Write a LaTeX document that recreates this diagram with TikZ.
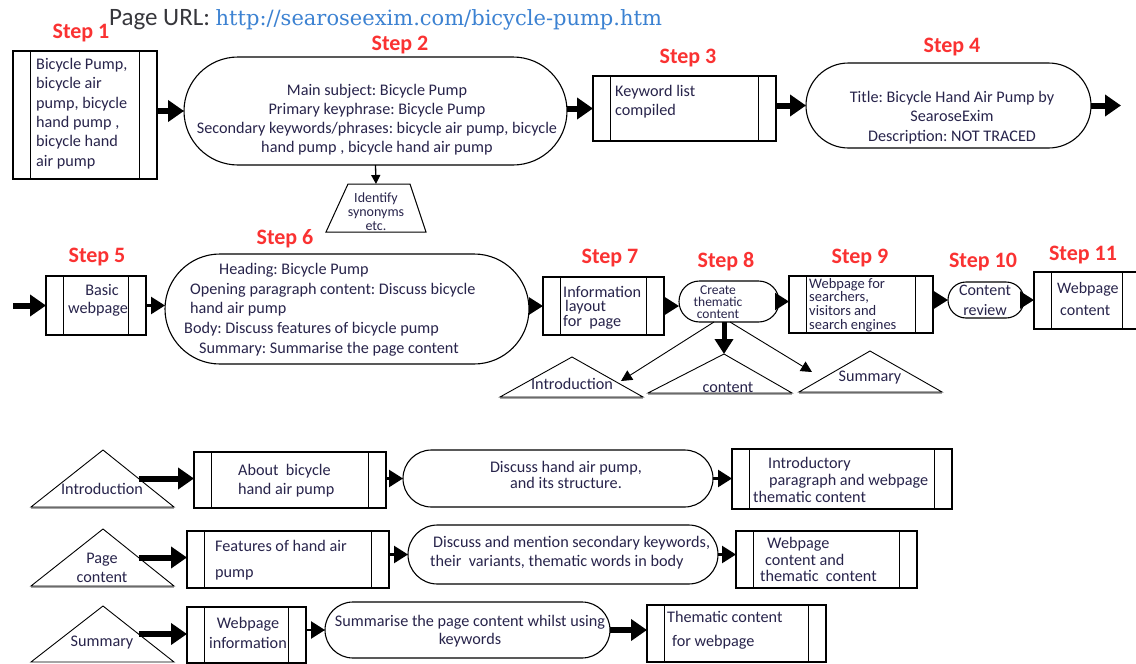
\documentclass[tikz,border=0pt]{standalone}
\usepackage{fontspec}
\setmainfont{Carlito}
\newfontfamily\urlfont{DejaVu Serif}
\usetikzlibrary{shapes.misc,shapes.geometric,arrows.meta,calc}
\definecolor{stepred}{RGB}{250,50,50}
\definecolor{urlblue}{RGB}{60,130,210}
\definecolor{pagegray}{RGB}{55,55,60}
\definecolor{textcol}{RGB}{40,36,75}
\newcommand\fs[2]{\fontsize{#1}{#2}\selectfont}
\frenchspacing
\begin{document}
\begin{tikzpicture}[x=1pt,y=-1pt,
  procbox/.style={draw, line width=1.4pt, inner sep=0pt, outer sep=0pt,
    path picture={
      \draw[line width=1.4pt] ([xshift=17.5pt]path picture bounding box.north west) -- ([xshift=17.5pt]path picture bounding box.south west);
      \draw[line width=1.4pt] ([xshift=-17.5pt]path picture bounding box.north east) -- ([xshift=-17.5pt]path picture bounding box.south east);}},
  stadium/.style={draw, rounded rectangle, line width=1.1pt, inner sep=0pt, outer sep=0pt},
  tri/.style={draw, line width=0.9pt, line join=miter},
  trishade/.style={draw=black!35, line width=2pt},
  txt/.style={text=textcol, inner sep=0pt, font=\fs{16.2}{19}},
  steplbl/.style={text=stepred, inner sep=0pt, font=\fs{22}{24}\bfseries},
  bigarrow/.style={line width=6pt, -{Triangle[length=16pt,width=21pt]}},
  midarrow/.style={line width=2.5pt, -{Triangle[length=14pt,width=17pt]}},
  thinarrow/.style={line width=0.9pt, -{Triangle[length=11pt,width=11pt]}},
  downarrow/.style={line width=1.3pt, -{Triangle[length=9pt,width=9pt]}}
]
\fill[white] (0,0) rectangle (1136,664);
\useasboundingbox (0,0) rectangle (1136,664);

% header
\node[anchor=west, inner sep=0pt] (url) at (109,20) {{\fs{25}{26}\color{pagegray}Page URL: }{\urlfont\fs{21}{24}\color{urlblue}http://searoseexim.com/bicycle-pump.htm}};

% step labels
\node[steplbl] (l1) at (81,33) {Step 1};
\node[steplbl] (l2) at (400,45) {Step 2};
\node[steplbl] (l3) at (688,58) {Step 3};
\node[steplbl] (l4) at (952,47) {Step 4};
\node[steplbl] (l5) at (97,257) {Step 5};
\node[steplbl] (l6) at (285,239) {Step 6};
\node[steplbl] (l7) at (610,258) {Step 7};
\node[steplbl] (l8) at (726,262) {Step 8};
\node[steplbl] (l9) at (860,258) {Step 9};
\node[steplbl] (l10) at (983,262) {Step 10};
\node[steplbl] (l11) at (1083,255) {Step 11};

% row 1 shapes
\node[procbox, minimum width=144pt, minimum height=128pt] (s1) at (85,115) {};
\node[stadium, minimum width=383pt, minimum height=108pt] (s2) at (375.5,111) {};
\node[procbox, minimum width=183pt, minimum height=65pt] (s3) at (684.5,108.5) {};
\node[stadium, minimum width=285pt, minimum height=85pt] (s4) at (948.5,105.5) {};
\coordinate (tz-tl) at (348,184); \coordinate (tz-tr) at (410,184);
\coordinate (tz-bl) at (326,232); \coordinate (tz-br) at (426,232);
\coordinate (tz) at (376,184);
\draw[line width=1pt] (tz-bl) -- (tz-tl) -- (tz-tr) -- (tz-br) -- cycle;

% row 1 texts
\node[txt, anchor=west, align=left, font=\fs{16.2}{19.4}] (s1t) at (36,113.5) {Bicycle Pump,\\bicycle air\\pump, bicycle\\hand pump ,\\bicycle hand\\air pump};
\node[txt, align=center, font=\fs{16.2}{19}] (s2t) at (377,119.5) {Main subject: Bicycle Pump\\Primary keyphrase: Bicycle Pump\\Secondary keywords/phrases: bicycle air pump, bicycle\\hand pump , bicycle hand air pump};
\node[txt, align=center, font=\fs{14}{14}] (tzt) at (376,212) {Identify\\synonyms\\etc.};
\node[txt, anchor=west, align=left, font=\fs{16.2}{19}] (s3t) at (615,101.5) {Keyword list\\compiled};
\node[txt, align=center, font=\fs{16.2}{19.5}] (s4t) at (952,117.5) {Title: Bicycle Hand Air Pump by\\SearoseExim\\Description: NOT TRACED};

% row 1 connectors
\coordinate (out4) at (1121,105.5);
\draw[bigarrow] (s1.east |- s2.west) -- (s2.west);
\draw[bigarrow] (s2.east |- s3.west) -- (s3.west);
\draw[bigarrow] (s3.east |- s4.west) -- (s4.west);
\draw[bigarrow] (s4.east) -- (out4);
\draw[downarrow] (s2.south) -- (tz);

% row 2 shapes
\node[procbox, minimum width=100pt, minimum height=59pt] (s5) at (96,305.5) {};
\node[stadium, minimum width=364pt, minimum height=110pt] (s6) at (347,309) {};
\node[procbox, minimum width=121pt, minimum height=58pt] (s7) at (603.5,306) {};
\node[stadium, minimum width=100pt, minimum height=41pt] (s8) at (729,301.5) {};
\node[procbox, minimum width=144pt, minimum height=57pt] (s9) at (861,304.5) {};
\node[stadium, minimum width=76pt, minimum height=36pt] (s10) at (986,300) {};
\node[procbox, minimum width=106pt, minimum height=57pt] (s11) at (1087,300.5) {};

% row 2 texts
\node[txt, align=center, font=\fs{16.2}{18}] (s5t) at (98,300) {\hspace*{8pt}Basic\\webpage};
\node[txt, anchor=west] (s6a) at (219,270) {Heading: Bicycle Pump};
\node[txt, anchor=west] (s6b) at (190,290) {Opening paragraph content: Discuss bicycle};
\node[txt, anchor=west] (s6c) at (190,309) {hand air pump};
\node[txt, anchor=west] (s6d) at (184,329) {Body: Discuss features of bicycle pump};
\node[txt, anchor=west] (s6e) at (199,349) {Summary: Summarise the page content};
\node[txt, anchor=west, align=left, font=\fs{16.2}{14.5}] (s7t) at (563,307.5) {Information\\\hspace*{2pt}layout\\for \ page};
\node[txt, align=center, font=\fs{13.5}{12}] (s8t) at (718,302) {Create\\thematic\\content};
\node[txt, anchor=west, align=left, font=\fs{14.5}{13.6}] (s9t) at (809,305) {Webpage for\\searchers,\\visitors and\\search engines};
\node[txt, align=center, font=\fs{16}{20}] (s10t) at (985,300) {Content\\review};
\node[txt, anchor=west, align=left, font=\fs{16}{22}] (s11t) at (1057,299) {Webpage\\\hspace*{3pt}content};

% triangles below step 8
\coordinate (ti-a) at (572,357); \coordinate (ti-l) at (500,397); \coordinate (ti-r) at (643,397);
\coordinate (tc-a) at (724,354); \coordinate (tc-l) at (648,393); \coordinate (tc-r) at (792,393);
\coordinate (ts-a) at (870,351); \coordinate (ts-l) at (799,392); \coordinate (ts-r) at (942,392);
\draw[trishade] ([yshift=-1pt]ti-l) -- ([yshift=-1pt]ti-r);
\draw[trishade] ([yshift=-1pt]tc-l) -- ([yshift=-1pt]tc-r);
\draw[trishade] ([yshift=-1pt]ts-l) -- ([yshift=-1pt]ts-r);
\draw[tri] (ti-l) -- (ti-a) -- (ti-r) -- cycle;
\draw[tri] (tc-l) -- (tc-a) -- (tc-r) -- cycle;
\draw[tri] (ts-l) -- (ts-a) -- (ts-r) -- cycle;
\node[txt] (tit) at (572,384) {Introduction};
\node[txt] (tct) at (728,387) {content};
\node[txt] (tst) at (870,378) {Summary};
\coordinate (ti-tip) at (621,381);
\coordinate (ts-tip) at (812,372);

% row 2 connectors
\coordinate (in5) at (13,305.5);
\draw[bigarrow] (in5) -- (s5.west);
\draw[midarrow] (s5.east) -- (s5.east -| s6.west);
\draw[midarrow] (s6.east |- s7.west) -- (s7.west);
\draw[midarrow] (s7.east) -- (s7.east -| s8.west);
\draw[midarrow] (s8.east) -- (s8.east -| s9.west);
\draw[midarrow] (s9.east |- s10.west) -- (s10.west);
\draw[midarrow] (s10.east) -- (s10.east -| s11.west);
\draw[line width=5pt, -{Triangle[length=15pt,width=18pt]}] ([xshift=-5pt]s8.south) -- (tc-a);
\draw[thinarrow] ([xshift=-15pt]s8.south) -- (ti-tip);
\draw[thinarrow] ([xshift=1pt]s8.south) -- (ts-tip);

% bottom triangles
\coordinate (t1-a) at (103,450); \coordinate (t1-l) at (31,507); \coordinate (t1-r) at (174,507);
\coordinate (t2-a) at (103,529); \coordinate (t2-l) at (31,586); \coordinate (t2-r) at (174,586);
\coordinate (t3-a) at (103,606); \coordinate (t3-l) at (31,662); \coordinate (t3-r) at (174,662);
\draw[trishade] ([yshift=-1pt]t1-l) -- ([yshift=-1pt]t1-r);
\draw[trishade] ([yshift=-1pt]t2-l) -- ([yshift=-1pt]t2-r);
\draw[tri] (t1-l) -- (t1-a) -- (t1-r) -- cycle;
\draw[tri] (t2-l) -- (t2-a) -- (t2-r) -- cycle;
\draw[tri] (t3-l) -- (t3-a) -- (t3-r) -- cycle;
\node[txt] (t1t) at (102,489) {Introduction};
\node[txt, align=center, font=\fs{16.2}{19}] (t2t) at (102,567.5) {Page\\content};
\node[txt] (t3t) at (102,643) {Summary};
\coordinate (t1m) at ($(t1-a)!0.5!(t1-r)$);
\coordinate (t2m) at ($(t2-a)!0.5!(t2-r)$);
\coordinate (t3m) at ($(t3-a)!0.5!(t3-r)$);

% bottom boxes and stadiums
\node[procbox, minimum width=192pt, minimum height=56pt] (b1) at (290,480) {};
\node[stadium, minimum width=310pt, minimum height=57pt] (r1) at (558,478.5) {};
\node[procbox, minimum width=220pt, minimum height=60pt] (b1b) at (842,479) {};
\node[procbox, minimum width=202pt, minimum height=57pt] (b2) at (288,559.5) {};
\node[stadium, minimum width=310pt, minimum height=59pt] (r2) at (563,554.5) {};
\node[procbox, minimum width=181pt, minimum height=57pt] (b2b) at (826.5,559.5) {};
\node[procbox, minimum width=119pt, minimum height=56pt] (b3) at (246.5,635) {};
\node[stadium, minimum width=285pt, minimum height=56pt] (r3) at (467.5,630) {};
\node[procbox, minimum width=179pt, minimum height=57pt] (b3b) at (736.5,633.5) {};

% bottom texts
\node[txt, anchor=west, align=left, font=\fs{16.2}{19}] (b1t) at (238,480.5) {About \ bicycle\\hand air pump};
\node[txt, align=center, font=\fs{16.2}{16}] (r1t) at (566,475) {Discuss hand air pump,\\and its structure.};
\node[txt, anchor=west, align=left, font=\fs{16.2}{17}] (b1bt) at (753,480) {\hspace*{15pt}Introductory\\\hspace*{16pt}paragraph and webpage\\thematic content};
\node[txt, anchor=west, align=left, font=\fs{16.2}{26}] (b2t) at (215,560) {Features of hand air\\pump};
\node[txt, anchor=west, align=left, font=\fs{16.2}{19}] (r2t) at (430,552.5) {\hspace*{3pt}Discuss and mention secondary keywords,\\their \ variants, thematic words in body};
\node[txt, anchor=west, align=left, font=\fs{16.2}{16.5}] (b2bt) at (760,559.5) {\hspace*{7pt}Webpage\\\hspace*{5pt}content and\\thematic \ content};
\node[txt, align=center, font=\fs{16.2}{20}] (b3t) at (248,633) {Webpage\\information};
\node[txt, align=center, font=\fs{16.2}{18}] (r3t) at (470,631) {Summarise the page content whilst using\\keywords};
\node[txt, anchor=west, align=left, font=\fs{16.2}{24}] (b3bt) at (667,630) {Thematic content\\\hspace*{5pt}for webpage};

% bottom connectors
\draw[bigarrow] (t1m) -- (t1m -| b1.west);
\draw[midarrow] (b1.east |- r1.west) -- (r1.west);
\draw[midarrow] (r1.east) -- (r1.east -| b1b.west);
\draw[bigarrow] (t2m) -- (t2m -| b2.west);
\draw[midarrow] (b2.east |- r2.west) -- (r2.west);
\draw[midarrow] (r2.east) -- (r2.east -| b2b.west);
\draw[bigarrow] (t3m) -- (t3m -| b3.west);
\draw[midarrow] (b3.east |- r3.west) -- (r3.west);
\draw[bigarrow] (r3.east) -- (r3.east -| b3b.west);
\end{tikzpicture}
\end{document}
